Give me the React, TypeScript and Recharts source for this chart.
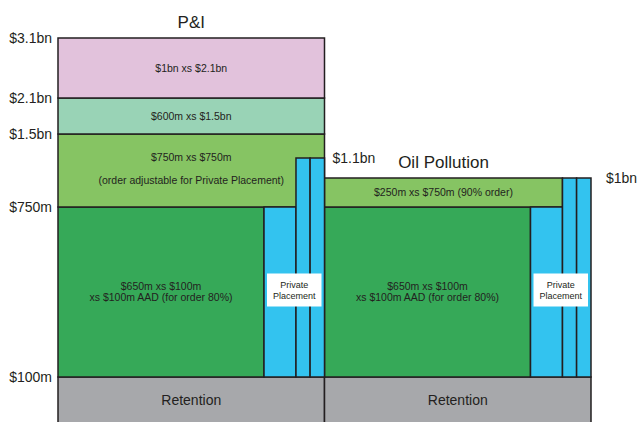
import { ComposedChart, ReferenceArea, Scatter, XAxis, YAxis } from "recharts";

const towerNames = ["P&I", "Oil Pollution"];

// left axis: attachment points in $m
const axisLevels = [100, 750, 1500, 2100, 3100];
const axisLabels = ["$100m", "$750m", "$1.5bn", "$2.1bn", "$3.1bn"];

type Layer = { lower: number; upper: number; text: string[] };

const piLayers: Layer[] = [
  { lower: 0, upper: 100, text: ["Retention"] },
  { lower: 100, upper: 750, text: ["$650m xs $100m", "xs $100m AAD (for order 80%)"] },
  { lower: 750, upper: 1500, text: ["$750m xs $750m", "", "(order adjustable for Private Placement)"] },
  { lower: 1500, upper: 2100, text: ["$600m xs $1.5bn"] },
  { lower: 2100, upper: 3100, text: ["$1bn xs $2.1bn"] },
];

const oilLayers: Layer[] = [
  { lower: 0, upper: 100, text: ["Retention"] },
  { lower: 100, upper: 750, text: ["$650m xs $100m", "xs $100m AAD (for order 80%)"] },
  { lower: 750, upper: 1000, text: ["$250m xs $750m (90% order)"] },
];

// private placement strips all attach at $100m; these are their tops
const placementAttach = 100;
const piPlacementTops = [750, 1100, 1100];
const oilPlacementTops = [750, 1000, 1000];
const placementTopLabels = ["$1.1bn", "$1bn"];
const placementText = ["Private", "Placement"];

const layersByTower = [piLayers, oilLayers];
const placementByTower = [piPlacementTops, oilPlacementTops];

const W = 638;
const H = 422;
const AXIS_W = 58;
const TOWER_PX = 266.5;
const INK = "#231f20";
const FONT = '"Liberation Sans", Arial, Helvetica, sans-serif';
const LAYER_FILL = ["#a7a8ab", "#36a958", "#86c463", "#99d3b6", "#e2c2dc"];
const STRIP_FILL = "#33c3ef";

// the tower is schematic, so each band between breakpoints gets its own height (px)
const BREAKS = [0, 100, 750, 1000, 1100, 1500, 2100, 3100];
const BAND_PX = [47, 170, 29, 20, 24, 36, 60];
// strip positions as a fraction of tower width
const STRIP_X = [
  [0.773, 0.893],
  [0.893, 0.946],
  [0.946, 1],
];
const SIDE_DX = [8, 15];

function warp(v: number): number {
  let acc = 0;
  for (let i = 0; i < BAND_PX.length; i++) {
    const lo = BREAKS[i];
    const hi = BREAKS[i + 1];
    if (v <= hi) return acc + ((v - lo) / (hi - lo)) * BAND_PX[i];
    acc += BAND_PX[i];
  }
  return acc;
}

const TOP = warp(BREAKS[BREAKS.length - 1]);
const MARGIN = { top: 38, right: 0, bottom: 0, left: 0 };
// plot runs to the right edge so the tags beside the towers stay inside the clip
const X_DOMAIN = [0, (W - AXIS_W) / TOWER_PX];
const Y_DOMAIN = [0, TOP];
const Y_TICKS = axisLevels.map(warp);
const TICK_STYLE = { fill: INK, fontSize: 14, fontFamily: FONT };

// top of each tower's placement strips, tagged at the tower's right edge
const stripTopPoints = placementByTower.map((tops, t) => ({
  x: t + 1,
  y: warp(Math.max(...tops)),
  label: placementTopLabels[t],
  dx: SIDE_DX[t],
}));

function formatTick(v: number): string {
  const i = axisLevels.findIndex((l) => Math.abs(warp(l) - v) < 0.01);
  return i >= 0 ? axisLabels[i] : "";
}

// a layer stops where a strip that reaches its top begins
function layerRight(layer: Layer, tops: number[]): number {
  let right = 1;
  tops.forEach((top, i) => {
    const overlaps = placementAttach < layer.upper && top > layer.lower;
    if (overlaps && top >= layer.upper) right = Math.min(right, STRIP_X[i][0]);
  });
  return right;
}

function boxOf(props: any) {
  const vb = props?.viewBox ?? props ?? {};
  return {
    x: Number(vb.x ?? 0),
    y: Number(vb.y ?? 0),
    width: Number(vb.width ?? 0),
    height: Number(vb.height ?? 0),
  };
}

function layerLabel(layer: Layer, size: number, title?: string) {
  return (props: any) => {
    const { x, y, width, height } = boxOf(props);
    const cx = x + width / 2;
    const gap = 11.5;
    const first = y + height / 2 - ((layer.text.length - 1) * gap) / 2 - (layer.text.length > 2 ? 2 : 0);
    return (
      <g fontFamily={FONT} fill={INK} textAnchor="middle">
        <text fontSize={size}>
          {layer.text.map((line, i) => (
            <tspan key={i} x={cx} y={first + i * gap} dy="0.35em">
              {line}
            </tspan>
          ))}
        </text>
        {title && (
          <text x={cx} y={y - 10} fontSize={17}>
            {title}
          </text>
        )}
      </g>
    );
  };
}

function placementBox(props: any) {
  const { x, y, width, height } = boxOf(props);
  const cx = x + width / 2;
  const cy = y + height / 2 - 2;
  const bw = width - 6;
  const bh = 33;
  return (
    <g fontFamily={FONT} fill={INK} textAnchor="middle">
      <rect x={cx - bw / 2} y={cy - bh / 2} width={bw} height={bh} fill="#ffffff" />
      <text fontSize={9}>
        {placementText.map((line, i) => (
          <tspan key={i} x={cx} y={cy + (i - 0.5) * 11} dy="0.35em">
            {line}
          </tspan>
        ))}
      </text>
    </g>
  );
}

function TopTag(props: any) {
  const { cx, cy, payload } = props;
  return (
    <text x={cx + payload.dx} y={cy} dy="0.35em" fontSize={14} fontFamily={FONT} fill={INK}>
      {payload.label}
    </text>
  );
}

// built once so every prop keeps the same identity between renders
const areas: any[] = [];

layersByTower.forEach((layers, t) => {
  const tops = placementByTower[t];
  layers.forEach((layer, i) => {
    const isTop = i === layers.length - 1;
    areas.push(
      <ReferenceArea
        key={`layer-${t}-${i}`}
        x1={t}
        x2={t + layerRight(layer, tops)}
        y1={warp(layer.lower)}
        y2={warp(layer.upper)}
        fill={LAYER_FILL[i]}
        fillOpacity={1}
        stroke={INK}
        strokeWidth={1.5}
        ifOverflow="visible"
        label={layerLabel(layer, i === 0 ? 14 : 10.5, isTop ? towerNames[t] : undefined)}
      />
    );
  });
});

placementByTower.forEach((tops, t) => {
  tops.forEach((top, i) => {
    areas.push(
      <ReferenceArea
        key={`strip-${t}-${i}`}
        x1={t + STRIP_X[i][0]}
        x2={t + STRIP_X[i][1]}
        y1={warp(placementAttach)}
        y2={warp(top)}
        fill={STRIP_FILL}
        fillOpacity={1}
        stroke={INK}
        strokeWidth={1.5}
        ifOverflow="visible"
      />
    );
  });
  areas.push(
    <ReferenceArea
      key={`pp-${t}`}
      x1={t + STRIP_X[0][0]}
      x2={t + 1}
      y1={warp(placementAttach)}
      y2={warp(tops[0])}
      fillOpacity={0}
      strokeOpacity={0}
      ifOverflow="visible"
      label={placementBox}
    />
  );
});

export default function App() {
  return (
    <div style={{ position: "absolute", left: 0, top: 0, width: W, height: H, overflow: "hidden" }}>
      <ComposedChart width={W} height={MARGIN.top + TOP} margin={MARGIN}>
        <XAxis type="number" dataKey="x" domain={X_DOMAIN} allowDataOverflow hide />
        <YAxis
          type="number"
          domain={Y_DOMAIN}
          allowDataOverflow
          ticks={Y_TICKS}
          tickFormatter={formatTick}
          width={AXIS_W}
          axisLine={false}
          tickLine={false}
          tickSize={4}
          tickMargin={2}
          interval={0}
          tick={TICK_STYLE}
        />
        {areas}
        <Scatter data={stripTopPoints} dataKey="y" shape={TopTag} isAnimationActive={false} />
      </ComposedChart>
    </div>
  );
}
